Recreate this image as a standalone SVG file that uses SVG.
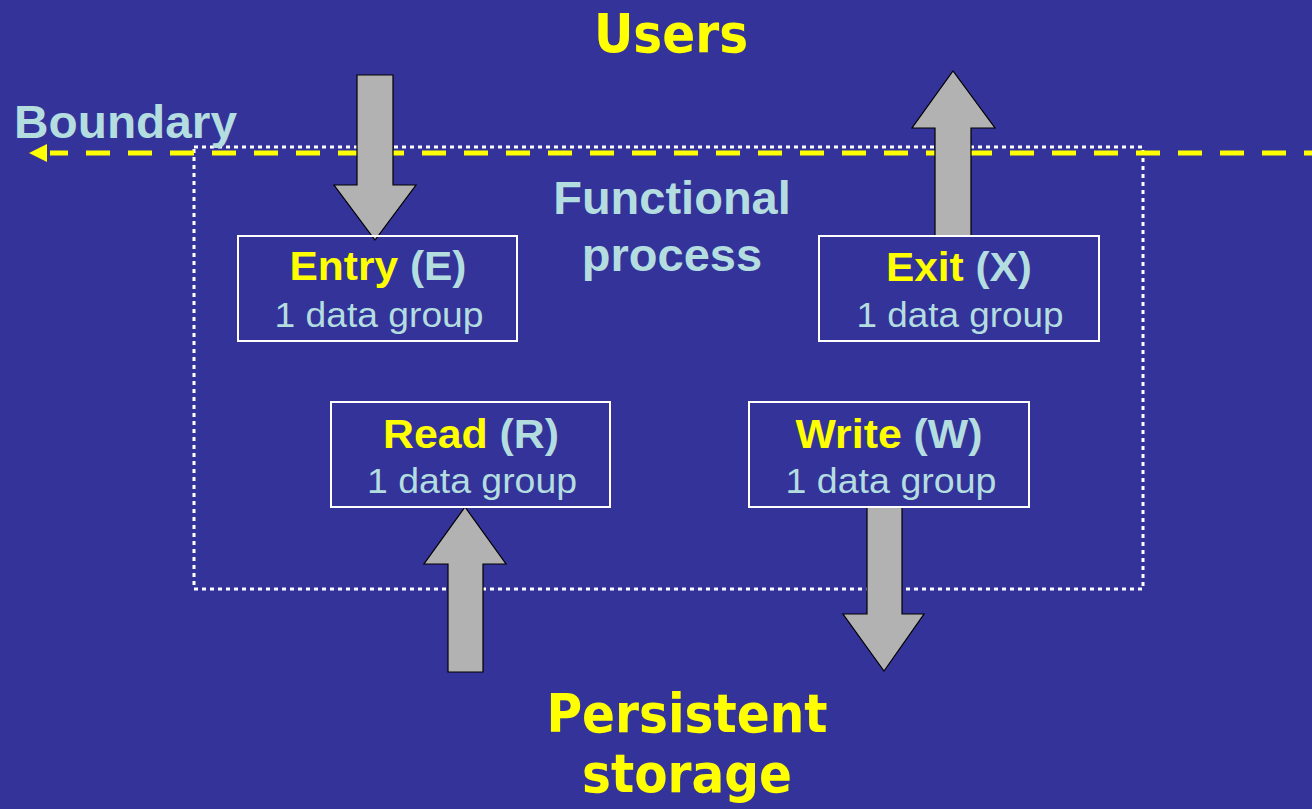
<svg xmlns="http://www.w3.org/2000/svg" width="1312" height="809" viewBox="0 0 1312 809">
  <style>
    .bg { fill: #333399; }
    .big { font-family: "DejaVu Sans Condensed", "DejaVu Sans", sans-serif; font-stretch: condensed; font-weight: bold; font-size: 54px; fill: #FFFF00; text-anchor: middle; }
    .lbl { font-family: "Liberation Sans", Arial, sans-serif; font-weight: bold; font-size: 47px; fill: #B4DDE0; }
    .title { font-family: "Liberation Sans", Arial, sans-serif; font-weight: bold; font-size: 41px; fill: #B4DDE0; text-anchor: middle; }
    .title .y { fill: #FFFF00; }
    .sub { font-family: "Liberation Sans", Arial, sans-serif; font-size: 35px; fill: #B4DDE0; text-anchor: middle; }
    .box { fill: none; stroke: #FFFFFF; stroke-width: 2; }
    .arrow { fill: #B2B2B2; stroke: #000000; stroke-width: 1.2; stroke-linejoin: miter; }
    .dotted { fill: none; stroke: #FFFFFF; stroke-width: 3; stroke-dasharray: 4 4; }
    .boundary { stroke: #FFFF00; stroke-width: 5; stroke-dasharray: 24 18; stroke-dashoffset: 6; fill: none; }
  </style>
  <rect class="bg" x="0" y="0" width="1312" height="809"/>

  <g id="functional-process">
    <rect class="dotted" x="194" y="147" width="949" height="442"/>
    <text class="lbl" x="672" y="214" text-anchor="middle">Functional</text>
    <text class="lbl" x="672" y="271" text-anchor="middle">process</text>
  </g>

  <g id="users">
    <text class="big" x="671" y="52">Users</text>
  </g>

  <g id="persistent-storage">
    <text class="big" x="687" y="732">Persistent</text>
    <text class="big" x="687" y="792">storage</text>
  </g>

  <g id="boundary">
    <text class="lbl" x="14" y="138" textLength="223" lengthAdjust="spacingAndGlyphs">Boundary</text>
  </g>

  <g id="connectors">
    <line class="boundary" x1="50" y1="153" x2="1312" y2="153"/>
    <polygon points="29,153 47,144 47,162" fill="#FFFF00"/>
    <polygon class="arrow" points="357,75 393,75 393,185 416,185 375,240 334,185 357,185"/>
    <polygon class="arrow" points="935,236 935,128 912,128 953,71 995,128 971,128 971,236"/>
    <polygon class="arrow" points="448,672 448,564 424,564 465,507 506,564 483,564 483,672"/>
    <polygon class="arrow" points="867,507 902,507 902,614 924,614 884,671 843,614 867,614"/>
  </g>

  <g id="entry">
    <rect class="box" x="238" y="236" width="279" height="105"/>
    <text class="title" x="378" y="280" textLength="177" lengthAdjust="spacingAndGlyphs"><tspan class="y">Entry</tspan> (E)</text>
    <text class="sub" x="379" y="327" textLength="209" lengthAdjust="spacingAndGlyphs">1 data group</text>
  </g>

  <g id="exit">
    <rect class="box" x="819" y="236" width="280" height="105"/>
    <text class="title" x="959" y="281" textLength="146" lengthAdjust="spacingAndGlyphs"><tspan class="y">Exit</tspan> (X)</text>
    <text class="sub" x="960" y="327" textLength="207" lengthAdjust="spacingAndGlyphs">1 data group</text>
  </g>

  <g id="read">
    <rect class="box" x="331" y="402" width="279" height="105"/>
    <text class="title" x="471" y="448" textLength="176" lengthAdjust="spacingAndGlyphs"><tspan class="y">Read</tspan> (R)</text>
    <text class="sub" x="472" y="493" textLength="210" lengthAdjust="spacingAndGlyphs">1 data group</text>
  </g>

  <g id="write">
    <rect class="box" x="749" y="402" width="280" height="105"/>
    <text class="title" x="889" y="448" textLength="187" lengthAdjust="spacingAndGlyphs"><tspan class="y">Write</tspan> (W)</text>
    <text class="sub" x="891" y="493" textLength="211" lengthAdjust="spacingAndGlyphs">1 data group</text>
  </g>
</svg>
